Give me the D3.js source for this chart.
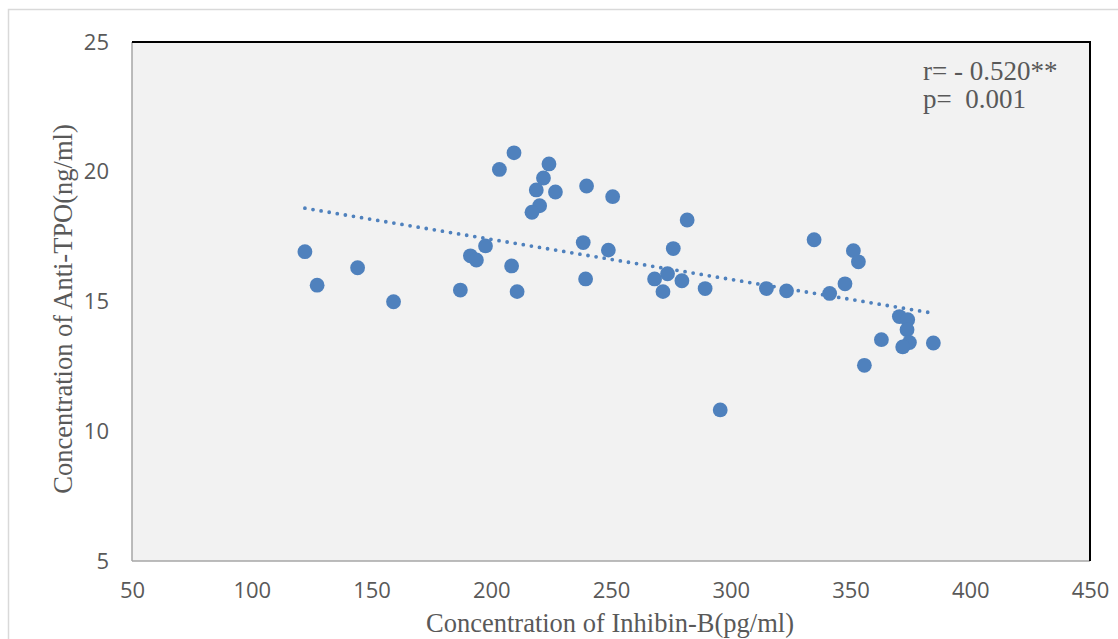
<!DOCTYPE html>
<html>
<head>
<meta charset="utf-8">
<script src="https://cdn.jsdelivr.net/npm/d3@7"></script>
<style>
  body { margin: 0; background: #fff; }
  svg { display: block; }
  .tick text { font-family: "Open Sans", sans-serif; font-size: 22px; fill: #595959; }
  .axis-title { font-family: "Liberation Serif", "Times New Roman", serif; font-size: 26.5px; fill: #595959; }
  .note { font-family: "Liberation Serif", "Times New Roman", serif; font-size: 27px; fill: #595959; white-space: pre; }
</style>
</head>
<body>
<svg id="chart" width="1118" height="639"></svg>
<script>
// Inhibin-B (pg/ml) vs Anti-TPO (ng/ml)
const inhibinB = [
  122.2, 127.3, 144.2, 159.2, 187.1, 191.3, 193.8, 197.6, 203.4, 209.5,
  208.5, 210.8, 224.1, 221.8, 218.8, 226.8, 220.2, 217.0, 239.8, 250.7,
  281.8, 238.4, 248.9, 239.4, 276.0, 268.2, 273.6, 271.7, 279.6, 289.3,
  314.9, 323.3, 334.8, 341.3, 347.7, 351.2, 353.3, 370.4, 373.9, 373.6,
  374.6, 371.8, 362.9, 384.6, 355.8, 295.6
];
const antiTPO = [
  16.92, 15.63, 16.30, 14.99, 15.44, 16.76, 16.60, 17.14, 20.09, 20.73,
  16.37, 15.38, 20.30, 19.76, 19.30, 19.22, 18.69, 18.44, 19.45, 19.04,
  18.14, 17.27, 16.98, 15.87, 17.04, 15.87, 16.07, 15.38, 15.80, 15.50,
  15.50, 15.41, 17.38, 15.31, 15.68, 16.96, 16.53, 14.42, 14.30, 13.91,
  13.42, 13.25, 13.53, 13.40, 12.54, 10.82
];
const xTicks = [50, 100, 150, 200, 250, 300, 350, 400, 450];
const yTicks = [5, 10, 15, 20, 25];
const noteLines = ["r= - 0.520**", "p=  0.001"];

const svg = d3.select("#chart");
const margin = { top: 42, right: 28, bottom: 78, left: 132 },
  width = 1118,
  height = 639,
  innerWidth = width - margin.left - margin.right,
  innerHeight = height - margin.top - margin.bottom;

// outer chart frame (runs off the bottom/right of the shot)
svg.append("rect")
  .attr("x", 8.5).attr("y", 9.5)
  .attr("width", 1300).attr("height", 800)
  .attr("fill", "#fff")
  .attr("stroke", "#d9d9d9")
  .attr("stroke-width", 1.5);

const g = svg.append("g").attr("transform", `translate(${margin.left},${margin.top})`);

const x = d3.scaleLinear().domain([50, 450]).range([0, innerWidth]);
const y = d3.scaleLinear().domain([5, 25]).range([innerHeight, 0]);

g.append("rect")
  .attr("width", innerWidth)
  .attr("height", innerHeight)
  .attr("fill", "#f2f2f2");

// plot frame: grey left/bottom, black top/right
g.append("line").attr("x1", 0).attr("x2", 0).attr("y1", 0).attr("y2", innerHeight)
  .attr("stroke", "#a6a6a6").attr("stroke-width", 1.5);
g.append("line").attr("x1", 0).attr("x2", innerWidth).attr("y1", innerHeight).attr("y2", innerHeight)
  .attr("stroke", "#a6a6a6").attr("stroke-width", 1.5);
g.append("line").attr("x1", 0).attr("x2", innerWidth + 1).attr("y1", 0).attr("y2", 0)
  .attr("stroke", "#000").attr("stroke-width", 2);
g.append("line").attr("x1", innerWidth).attr("x2", innerWidth).attr("y1", 0).attr("y2", innerHeight)
  .attr("stroke", "#000").attr("stroke-width", 2);

const xAxis = g.append("g")
  .attr("transform", `translate(0,${innerHeight})`)
  .call(d3.axisBottom(x).tickValues(xTicks).tickSize(0).tickPadding(21));
xAxis.select(".domain").remove();

const yAxis = g.append("g")
  .call(d3.axisLeft(y).tickValues(yTicks).tickSize(0).tickPadding(23));
yAxis.select(".domain").remove();

// linear trend line (least squares)
const points = inhibinB.map((v, i) => ({ x: v, y: antiTPO[i] }));
const mx = d3.mean(points, (d) => d.x),
  my = d3.mean(points, (d) => d.y);
const slope = d3.sum(points, (d) => (d.x - mx) * (d.y - my)) /
  d3.sum(points, (d) => (d.x - mx) ** 2);
const intercept = my - slope * mx;
const [xMin, xMax] = d3.extent(inhibinB);

g.append("line")
  .attr("x1", x(xMin)).attr("y1", y(intercept + slope * xMin))
  .attr("x2", x(xMax)).attr("y2", y(intercept + slope * xMax))
  .attr("stroke", "#4f81bd")
  .attr("stroke-width", 3.8)
  .attr("stroke-linecap", "round")
  .attr("stroke-dasharray", "0,8.2");

g.selectAll("circle")
  .data(points)
  .join("circle")
  .attr("cx", (d) => x(d.x))
  .attr("cy", (d) => y(d.y))
  .attr("r", 7.4)
  .attr("fill", "#4f81bd");

// axis titles
svg.append("text")
  .attr("class", "axis-title")
  .attr("x", 610).attr("y", 632)
  .attr("text-anchor", "middle")
  .text("Concentration of Inhibin-B(pg/ml)");

svg.append("text")
  .attr("class", "axis-title")
  .attr("transform", "translate(72,309) rotate(-90)")
  .attr("text-anchor", "middle")
  .text("Concentration of Anti-TPO(ng/ml)");

svg.selectAll(".note")
  .data(noteLines)
  .join("text")
  .attr("class", "note")
  .attr("x", 923)
  .attr("y", (d, i) => 80 + i * 28)
  .text((d) => d);
</script>
</body>
</html>
